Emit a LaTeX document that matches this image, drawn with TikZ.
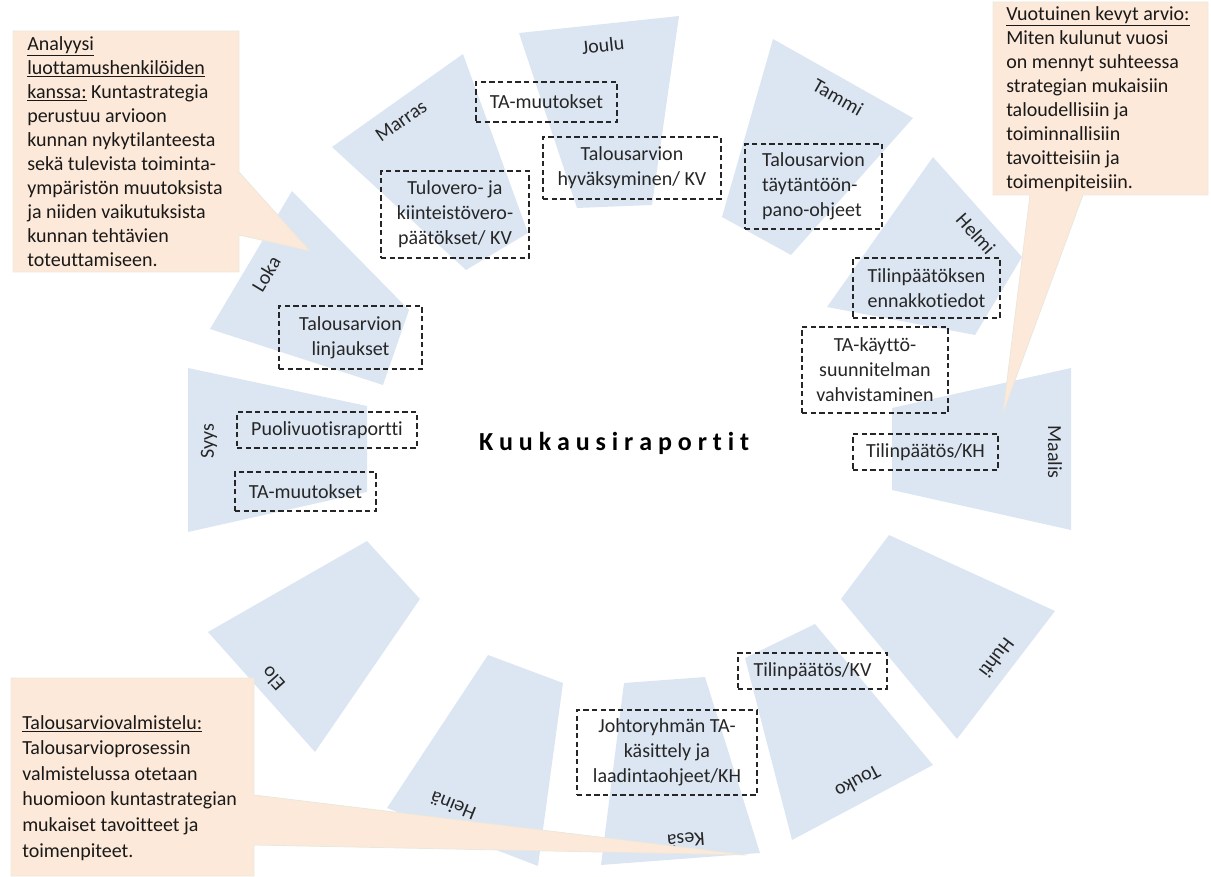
\documentclass[tikz,border=0pt]{standalone}
\usepackage{fontspec}
\setmainfont{Carlito}[Ligatures=NoCommon]
\usepackage{tikz}
\usetikzlibrary{calc}
\usetikzlibrary{positioning}
\usetikzlibrary{shapes}

\definecolor{kuublue}{HTML}{DCE6F2}
\definecolor{kuupeach}{HTML}{FDE9D9}
\definecolor{kuuedge}{HTML}{EAE8DE}

\newcommand{\alleviiva}[1]{\underline{#1}}

\begin{document}
\begin{tikzpicture}[x=0.75pt, y=-0.75pt,
	sector/.style={fill=kuublue},
	month/.style={font=\fontsize{15}{18}\selectfont, text=black!85, inner sep=0pt},
	event/.style={draw=black!85, dash pattern=on 4pt off 2.5pt, line width=0.9pt, align=center, inner sep=0pt, font=\fontsize{15}{18.75}\selectfont, text=black!85},
	callout/.style={fill=kuupeach, draw=kuuedge, line width=0.6pt},
	note/.style={anchor=north west, align=left, inner sep=0pt, font=\fontsize{15}{18}\selectfont, text=black!90}]

	\useasboundingbox (0,0) rectangle (1211,877);

	% kuukaudet
	\fill[sector] (519,33) -- (679,16) -- (652,205) -- (577,208) -- cycle;
	\fill[sector] (773,39) -- (913,118) -- (791,255) -- (722,217) -- cycle;
	\fill[sector] (933,157) -- (1022,257) -- (975,335) -- (827,307) -- cycle;
	\fill[sector] (1071,368) -- (1071,530) -- (892,490) -- (892,408) -- cycle;
	\fill[sector] (889,535) -- (1055,611) -- (957,739) -- (841,599) -- cycle;
	\fill[sector] (815,624) -- (933,765) -- (792,840) -- (745,658) -- cycle;
	\fill[sector] (624,683) -- (705,677) -- (760,853) -- (601,865) -- cycle;
	\fill[sector] (488,655) -- (563,683) -- (538,866) -- (387,808) -- cycle;
	\fill[sector] (367,541) -- (420,599) -- (315,752) -- (208,632) -- cycle;
	\fill[sector] (367,406) -- (367,492) -- (188,532) -- (188,368) -- cycle;
	\fill[sector] (292,191) -- (409,310) -- (383,385) -- (210,329) -- cycle;
	\fill[sector] (463,54) -- (528,233) -- (466,270) -- (332,147) -- cycle;

	\node[month, rotate=6] (joulu) at (603,45) {Joulu};
	\node[month, rotate=-29.5] (tammi) at (838,97) {Tammi};
	\node[month, rotate=-48] (helmi) at (976,234) {Helmi};
	\node[month, rotate=-90] (maalis) at (1055,452) {Maalis};
	\node[month, rotate=-127] (huhti) at (997,658) {Huhti};
	\node[month, rotate=-152] (touko) at (858,782) {Touko};
	\node[month, rotate=-176] (kesa) at (686,840) {Kesä};
	\node[month, rotate=158] (heina) at (453,806) {Heinä};
	\node[month, rotate=132] (elo) at (273,679) {Elo};
	\node[month, rotate=90] (syys) at (209,441) {Syys};
	\node[month, rotate=59] (loka) at (266,274) {Loka};
	\node[month, rotate=35] (marras) at (401,121) {Marras};

	\node[font=\fontsize{19.5}{22}\selectfont\bfseries] (otsikko) at (614,443) {K u u k a u s i r a p o r t i t};

	% tapahtumat
	\node[event, minimum width=105.75pt, minimum height=30pt] (tamuut1) at (546.5,102) {TA-muutokset};
	\node[event, minimum width=133.5pt, minimum height=46.5pt] (hyvaks) at (632,168) {Talousarvion\\hyväksyminen/ KV};
	\node[event, minimum width=111pt, minimum height=65.25pt] (tulovero) at (455,214.5) {Tulovero- ja\\kiinteistövero-\\päätökset/ KV};
	\node[event, align=left, minimum width=102.75pt, minimum height=63.75pt] (taytanto) at (813.5,186.5) {Talousarvion\\täytäntöön-\\pano-ohjeet};
	\node[event, minimum width=110.25pt, minimum height=45pt] (ennakko) at (926.5,288) {Tilinpäätöksen\\ennakkotiedot};
	\node[event, minimum width=109.5pt, minimum height=64.5pt] (kayttosuun) at (875,370) {TA-käyttö-\\suunnitelman\\vahvistaminen};
	\node[event, minimum width=108.75pt, minimum height=27pt] (tpkh) at (925.5,452) {Tilinpäätös/KH};
	\node[event, minimum width=107.25pt, minimum height=47.25pt] (linjaukset) at (350.5,337.5) {Talousarvion\\linjaukset};
	\node[event, minimum width=135pt, minimum height=27pt] (puolivuosi) at (327,430) {Puolivuotisraportti};
	\node[event, minimum width=105.75pt, minimum height=29.25pt] (tamuut2) at (305.5,491.5) {TA-muutokset};
	\node[event, minimum width=111.75pt, minimum height=27pt] (tpkv) at (812.5,671) {Tilinpäätös/KV};
	\node[event, minimum width=135pt, minimum height=63.75pt] (johto) at (667,752.5) {Johtoryhmän TA-\\käsittely ja\\laadintaohjeet/KH};

	% puhekuplat
	\coordinate (karki1) at (310,251);
	\coordinate (karki2) at (1003,413);
	\coordinate (karki3) at (747,855);
	\draw[callout] (13,31) -- (239,31) -- (239,172) -- (karki1) -- (239,235) -- (239,272) -- (13,272) -- cycle;
	\draw[callout] (993,2) -- (1208,2) -- (1208,195) -- (1083,195) -- (karki2) -- (1030,195) -- (993,195) -- cycle;
	\draw[callout] (11,678) -- (254,678) -- (254,795) -- (karki3) -- (254,845) -- (254,876) -- (11,876) -- cycle;

	\node[note] (analyysi) at (27,36) {\alleviiva{Analyysi}\\\alleviiva{luottamushenkilöiden}\\\alleviiva{kanssa:} Kuntastrategia\\perustuu arvioon\\kunnan nykytilanteesta\\sekä tulevista toiminta-\\ympäristön muutoksista\\ja niiden vaikutuksista\\kunnan tehtävien\\toteuttamiseen.};
	\node[note] (arvio) at (1006,6) {\alleviiva{Vuotuinen kevyt arvio:}\\Miten kulunut vuosi\\on mennyt suhteessa\\strategian mukaisiin\\taloudellisiin ja\\toiminnallisiin\\tavoitteisiin ja\\toimenpiteisiin.};
	\node[note, font=\fontsize{15}{19.2}\selectfont] (valmistelu) at (22,715) {\alleviiva{Talousarviovalmistelu:}\\Talousarvioprosessin\\valmistelussa otetaan\\huomioon kuntastrategian\\mukaiset tavoitteet ja\\toimenpiteet.};
\end{tikzpicture}
\end{document}
